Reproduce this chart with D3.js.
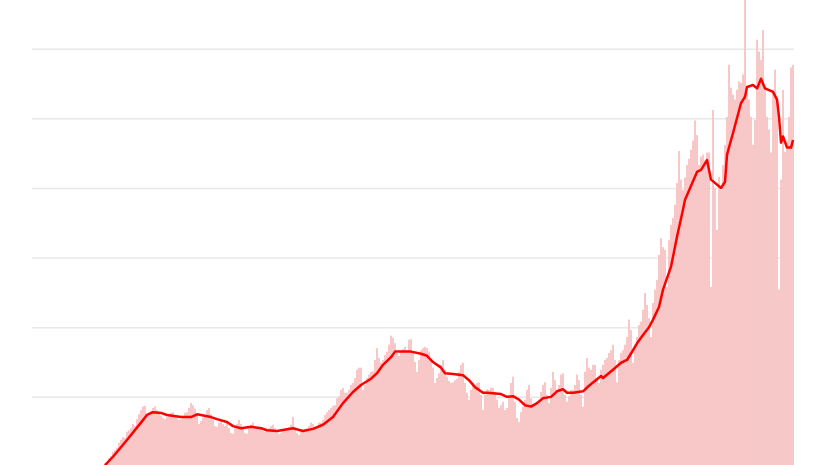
<html><head>
<meta charset="utf-8">
<title>Daily cases</title>
<script src="https://d3js.org/d3.v7.min.js"></script>
<style>
  body { margin: 0; background: #fff; }
  svg { display: block; }
</style>
</head>
<body>
<div id="chart"></div>
<script>

// daily counts, one per day
var cases = [
  40,60,120,150,210,240,270,340,380,420,410,500,520,550,610,580,680,750,810,860,870,750,730,800,840,860,810,770,
  730,700,680,710,750,770,780,730,700,670,680,730,770,780,840,910,880,830,750,610,650,700,740,810,840,750,670,580,570,630,
  650,610,580,630,550,480,470,550,610,670,610,540,480,470,550,600,630,580,550,570,540,510,500,520,550,580,600,550,510,470,
  480,510,540,550,570,600,710,550,480,450,500,520,540,550,580,630,610,570,580,630,630,670,740,780,810,840,870,880,980,1010,
  1100,1130,1060,1060,1100,1170,1200,1270,1390,1420,1420,1100,1170,1270,1320,1360,1370,1530,1700,1560,1490,1530,1600,1650,1750,1880,1850,1770,1630,1590,
  1650,1690,1720,1670,1820,1830,1650,1500,1360,1530,1670,1700,1720,1700,1650,1530,1420,1200,1270,1340,1460,1530,1390,1290,1230,1200,1210,1240,1260,1360,
  1460,1490,1200,1060,960,1100,1200,1170,1200,1210,1030,810,1030,1110,1100,1130,1130,1070,960,840,880,930,810,840,1030,1200,1290,930,700,640,
  780,860,960,1100,1170,980,900,910,930,960,1070,1170,1210,1030,910,1130,1360,1240,1100,1170,1320,1340,1030,930,1010,1100,1100,1170,1320,1240,
  1030,860,1360,1560,1420,1390,1460,1460,1270,1200,1390,1460,1530,1560,1630,1670,1750,1530,1210,1530,1630,1670,1750,1860,2110,1960,1490,1750,1860,2030,
  2080,2250,2490,2320,2130,1860,2350,2540,2680,3040,3280,3150,3110,2580,3250,3470,3570,3760,4070,4530,4120,3970,4150,4330,4420,4550,4680,4970,4760,4330,
  4450,4480,4400,4510,4510,2580,5120,4000,3400,4160,3970,4330,4620,5020,5770,5440,5340,5270,5410,5530,5510,5630,6900,5370,5270,5020,4620,4980,6130,5960,
  5840,6270,5450,5020,4840,4510,5410,5700,5270,2540,4120,5410,4520,4690,5020,5730,5770
];

// 7-day average, read at these day numbers
var avgDay = [0,4,11,18,21,24,28,31,38,43,46,53,56,61,64,68,73,78,81,86,94,99,104,109,114,119,124,128,133,136,139,143,145,149,153,158,161,164,168,170,174,179,182,185,189,191,198,201,204,207,210,213,216,219,223,226,229,231,234,239,242,248,249,254,258,261,264,266,269,272,274,277,279,283,286,289,290,296,298,301,303,308,310,311,314,318,320,321,324,326,328,330,334,336,337,338,339,341,343,344];
var avgValue = [20,140,380,630,740,780,770,740,710,710,750,710,680,640,580,550,570,550,520,510,550,510,540,600,710,910,1070,1170,1260,1340,1460,1570,1650,1650,1650,1620,1590,1500,1420,1340,1330,1310,1240,1140,1060,1060,1040,1000,1010,960,880,860,910,980,1000,1080,1110,1060,1060,1080,1160,1300,1270,1390,1490,1530,1670,1770,1890,2000,2110,2290,2540,2870,3300,3690,3830,4230,4260,4400,4120,4000,4090,4480,4790,5220,5310,5450,5480,5430,5570,5430,5380,5270,5020,4650,4740,4580,4580,4690];

var gridValues = [1000, 2000, 3000, 4000, 5000, 6000];
var firstDay = -36;   // axis starts 36 days before the first count

var width = 826, height = 465;
var plot = {left: 32, right: 794, bottom: 466.5, top: 0};

var svg = d3.select("#chart")
  .append("svg")
    .attr("width", width)
    .attr("height", height);

var xScale = d3.scaleBand()
    .domain(d3.range(firstDay, cases.length))
    .range([plot.left, plot.right])
    .paddingInner(0.03);

var yScale = d3.scaleLinear()
    .domain([0, 6700])
    .range([plot.bottom, plot.top]);

// gridlines
var yAxis = d3.axisLeft(yScale)
    .tickValues(gridValues)
    .tickSize(-(plot.right - plot.left))
    .tickFormat("");

var g = svg.append("g")
    .attr("transform", "translate(" + plot.left + ",0)")
    .call(yAxis);
g.select(".domain").remove();
g.selectAll(".tick line")
    .attr("stroke", "#e8e8e8")
    .attr("stroke-width", 1.5);

// bars
svg.append("g")
  .selectAll("rect")
  .data(cases)
  .enter().append("rect")
    .attr("x", function(d, i) { return xScale(i); })
    .attr("y", function(d) { return yScale(d); })
    .attr("width", xScale.bandwidth())
    .attr("height", function(d) { return plot.bottom - yScale(d); })
    .attr("fill", "#f8c6c6");

// average line
var avg = avgDay.map(function(d, i) { return {day: d, value: avgValue[i]}; });

svg.append("path")
    .datum(avg)
    .attr("fill", "none")
    .attr("stroke", "#ff0000")
    .attr("stroke-width", 2.5)
    .attr("stroke-linejoin", "round")
    .attr("d", d3.line()
      .x(function(d) { return xScale(d.day) + xScale.bandwidth() / 2; })
      .y(function(d) { return yScale(d.value); })
    );

</script>
</body></html>
